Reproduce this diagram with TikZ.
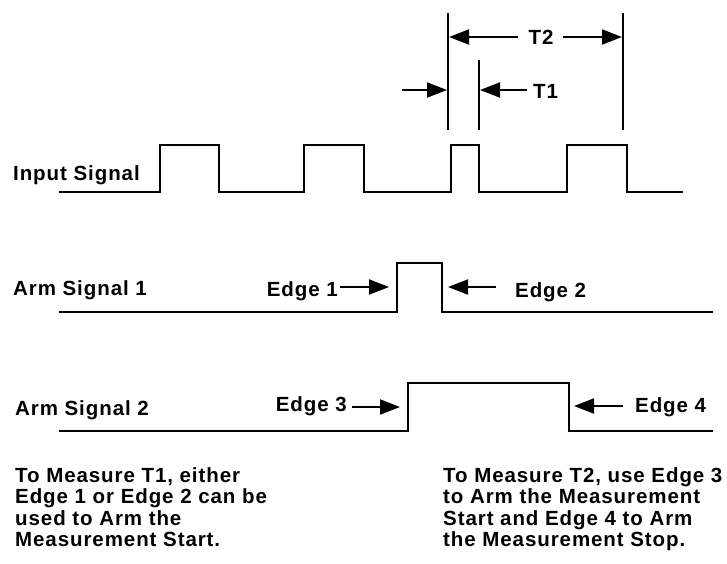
\documentclass[tikz,border=0pt]{standalone}
\usepackage{fontspec}
\setmainfont{Liberation Sans}[LetterSpace=4.5]
\usetikzlibrary{arrows.meta}
\begin{document}
\begin{tikzpicture}[x=1pt,y=-1pt,
  lbl/.style={font=\bfseries\fontsize{20.5}{25}\selectfont, inner sep=0pt},
  note/.style={font=\bfseries\fontsize{20.5}{21.5}\selectfont, inner sep=0pt, align=left, anchor=north west},
  sig/.style={line width=2pt, line join=miter},
  markline/.style={line width=2pt},
  arr/.style={line width=2pt, -{Triangle[length=20pt,width=15pt]}}]
\useasboundingbox (0,0) rectangle (727,563);
% waveforms
\draw[sig] (59,192) -- (160,192) -- (160,145) -- (219,145) -- (219,192) -- (304,192) -- (304,145) -- (364,145) -- (364,192) -- (451,192) -- (451,145) -- (479,145) -- (479,192) -- (567,192) -- (567,145) -- (627,145) -- (627,192) -- (683,192);
\draw[sig] (59,312) -- (397,312) -- (397,263) -- (442,263) -- (442,312) -- (713,312);
\draw[sig] (59,431) -- (408,431) -- (408,383) -- (569,383) -- (569,431) -- (713,431);
% markers
\coordinate (m2a) at (448,13); \coordinate (m2b) at (448,130);
\coordinate (m3a) at (623,13); \coordinate (m3b) at (623,130);
\coordinate (m1a) at (479,60); \coordinate (m1b) at (479,130);
\draw[markline] (m2a) -- (m2b);
\draw[markline] (m3a) -- (m3b);
\draw[markline] (m1a) -- (m1b);
% T2
\node[lbl, anchor=base] (t2) at (541,44) {T2};
\coordinate (t2la) at (518,37); \coordinate (t2l) at (449,37);
\coordinate (t2ra) at (563,37); \coordinate (t2r) at (622,37);
\draw[arr] (t2la) -- (t2l);
\draw[arr] (t2ra) -- (t2r);
% T1
\node[lbl, anchor=base west] (t1) at (533,98) {T1};
\coordinate (t1s) at (402,90); \coordinate (t1e) at (447,90);
\coordinate (t1a) at (527,90); \coordinate (t1f) at (480,90);
\draw[arr] (t1s) -- (t1e);
\draw[arr] (t1a) -- (t1f);
% signal labels
\node[lbl, anchor=base west] (in) at (13,180) {Input Signal};
\node[lbl, anchor=base west] (a1) at (13,295) {Arm Signal 1};
\node[lbl, anchor=base west] (a2) at (15,415) {Arm Signal 2};
% edges
\node[lbl, anchor=base east] (e1) at (338,296) {Edge 1};
\coordinate (e1a) at (340,287); \coordinate (e1t) at (389,287);
\draw[arr] (e1a) -- (e1t);
\node[lbl, anchor=base west] (e2) at (515,297) {Edge 2};
\coordinate (e2a) at (496,287); \coordinate (e2t) at (448,287);
\draw[arr] (e2a) -- (e2t);
\node[lbl, anchor=base east] (e3) at (347,411) {Edge 3};
\coordinate (e3a) at (352,407); \coordinate (e3t) at (400,407);
\draw[arr] (e3a) -- (e3t);
\node[lbl, anchor=base west] (e4) at (635,412) {Edge 4};
\coordinate (e4a) at (623,406); \coordinate (e4t) at (574,406);
\draw[arr] (e4a) -- (e4t);
% notes
\node[note] (n1) at (15,467) {To Measure T1, either\\Edge 1 or Edge 2 can be\\used to Arm the\\Measurement Start.};
\node[note] (n2) at (443,467) {To Measure T2, use Edge 3\\to Arm the Measurement\\Start and Edge 4 to Arm\\the Measurement Stop.};
\end{tikzpicture}
\end{document}
